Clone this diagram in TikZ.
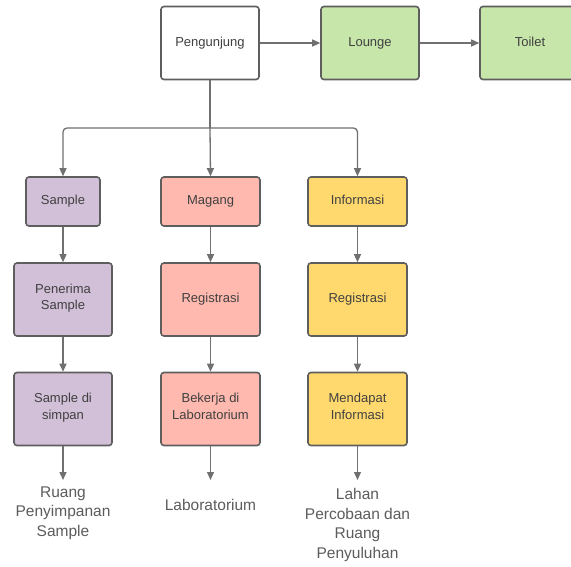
\documentclass[tikz,border=0pt]{standalone}
\usepackage{fontspec}
\setmainfont{Liberation Sans}
\usetikzlibrary{arrows.meta,positioning}
\definecolor{edge}{HTML}{5E5E5E}
\definecolor{wire}{HTML}{707070}
\definecolor{boxtext}{HTML}{404040}
\definecolor{labeltext}{HTML}{5C5C5C}
\definecolor{fillgreen}{HTML}{C7E6AA}
\definecolor{fillpurple}{HTML}{D2C0D8}
\definecolor{fillsalmon}{HTML}{FFB9AF}
\definecolor{fillyellow}{HTML}{FFD96E}
\tikzset{
  box/.style={draw=edge, line width=1.6pt, rounded corners=3pt, align=center,
    inner sep=0pt, text=boxtext, font=\fontsize{13pt}{16.5pt}\selectfont,
    execute at begin node=\strut, execute at end node=\strut},
  tall/.style={box, minimum width=98pt, minimum height=73pt},
  small/.style={box, minimum height=49pt},
  conn/.style={draw=wire, line width=1.3pt, -{Triangle[length=8pt,width=7pt]}},
  place/.style={align=center, text=labeltext, inner sep=0pt,
    font=\fontsize{15.5pt}{19.7pt}\selectfont},
}
\begin{document}
\begin{tikzpicture}[x=1pt,y=-1pt]
\clip (0,0) rectangle (571,567);
\useasboundingbox (0,0) rectangle (571,567);
\fill[white] (0,0) rectangle (571,567);

% top row
\node[tall, fill=white] (peng) at (210,43) {Pengunjung};
\node[tall, fill=fillgreen] (lounge) at (370,43) {Lounge};
\node[tall, fill=fillgreen, minimum width=100pt] (toilet) at (530,43) {Toilet};

% column: sample
\node[small, fill=fillpurple, minimum width=74pt] (sample) at (63,201.5) {Sample};
\node[tall, fill=fillpurple] (terima) at (63,299.5) {Penerima\\Sample};
\node[tall, fill=fillpurple] (simpan) at (63,409) {Sample di\\simpan};

% column: internship
\node[small, fill=fillsalmon, minimum width=99pt] (magang) at (210.5,201.5) {Magang};
\node[tall, fill=fillsalmon, minimum width=99pt] (reg1) at (210.5,299.5) {Registrasi};
\node[tall, fill=fillsalmon, minimum width=99pt] (lab) at (210.5,409) {Bekerja di\\Laboratorium};

% column: information
\node[small, fill=fillyellow, minimum width=99pt] (info) at (357.5,201.5) {Informasi};
\node[tall, fill=fillyellow, minimum width=99pt] (reg2) at (357.5,299.5) {Registrasi};
\node[tall, fill=fillyellow, minimum width=99pt] (dapat) at (357.5,409) {Mendapat\\Informasi};

% end places
\coordinate (end1) at (63,480);
\coordinate (end2) at (210.5,480);
\coordinate (end3) at (357.5,480);
\node[place] (ruang) at (63,513) {Ruang\\Penyimpanan\\Sample};
\node[place] (labroom) at (210.5,505) {Laboratorium};
\node[place] (lahan) at (357.5,525) {Lahan\\Percobaan dan\\Ruang\\Penyuluhan};

% connectors
\draw[conn] (peng) -- (lounge);
\draw[conn] (lounge) -- (toilet);
\coordinate (split) at (210,128);
\draw[draw=wire, line width=1.3pt] (peng.south) -- (split);
\draw[conn, rounded corners=4pt] (split) -| (sample.north);
\draw[conn] (split) -- (magang.north);
\draw[conn, rounded corners=4pt] (split) -| (info.north);

\draw[conn] (sample) -- (terima);
\draw[conn] (terima) -- (simpan);
\draw[conn] (simpan) -- (end1);
\draw[conn] (magang) -- (reg1);
\draw[conn] (reg1) -- (lab);
\draw[conn] (lab) -- (end2);
\draw[conn] (info) -- (reg2);
\draw[conn] (reg2) -- (dapat);
\draw[conn] (dapat) -- (end3);
\end{tikzpicture}
\end{document}
